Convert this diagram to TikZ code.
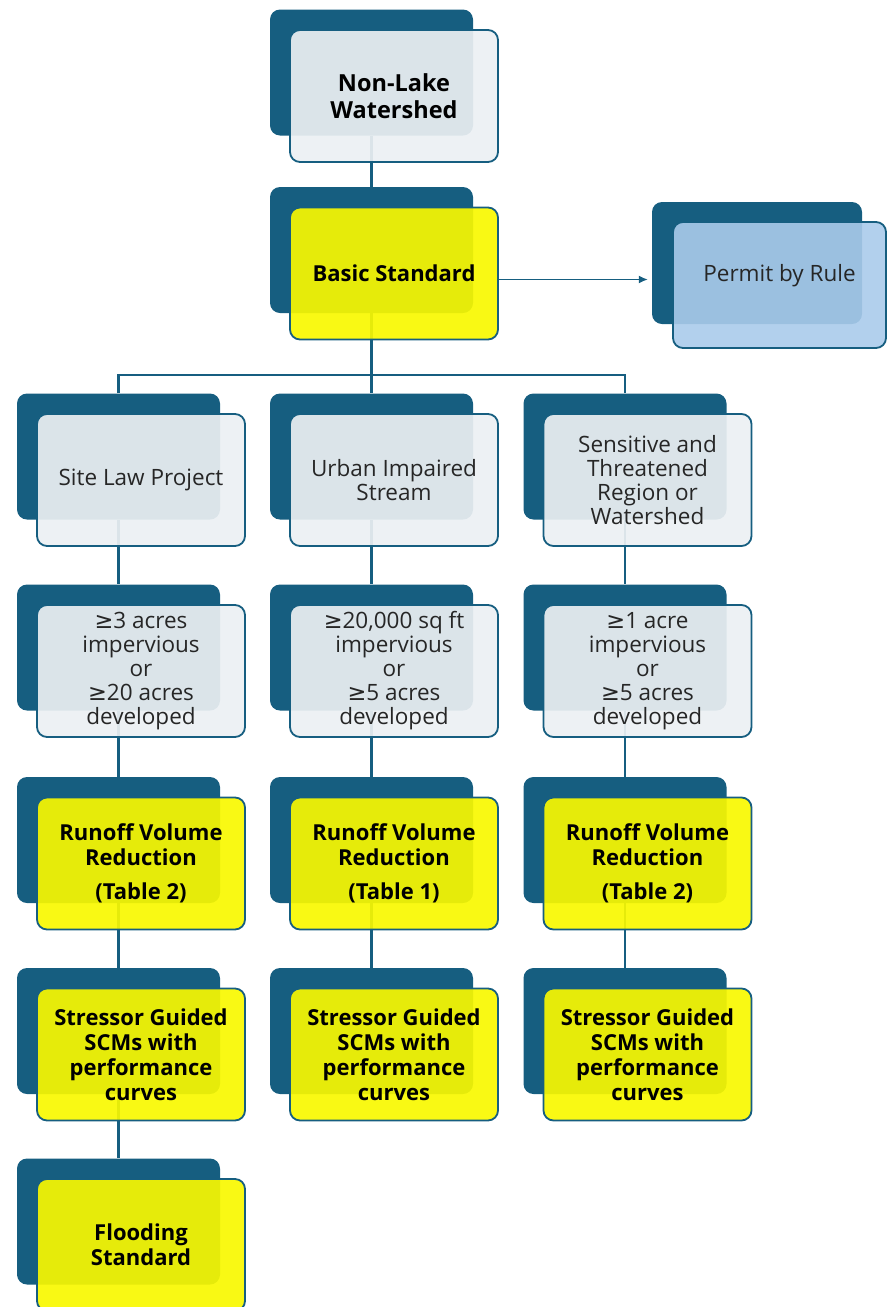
\documentclass[tikz,border=0pt]{standalone}
\usepackage{fontspec}
\setmainfont{Open Sans}
\newfontfamily\symbolfont{DejaVu Sans}
\newcommand{\atleast}{{\symbolfont ≥}}
\definecolor{deepteal}{RGB}{22,94,128}
\definecolor{mistgrey}{RGB}{236,240,243}
\definecolor{brightyellow}{RGB}{248,248,0}
\definecolor{paleblue}{RGB}{170,203,235}
\usetikzlibrary{arrows.meta,positioning,calc}

\tikzset{
  backbox/.style={fill=deepteal, rounded corners=10pt, inner sep=0pt,
                  minimum width=203pt, minimum height=126pt},
  frontbox/.style={draw=deepteal, line width=1.8pt, rounded corners=10pt,
                   minimum width=208pt, minimum height=132pt, inner sep=3pt,
                   align=center, fill opacity=0.92, text opacity=1, text=black!85,
                   font=\fontsize{22.5}{24}\selectfont},
  greybox/.style={frontbox, fill=mistgrey},
  yellowbox/.style={frontbox, fill=brightyellow, text=black,
                    font=\bfseries\fontsize{22}{25}\selectfont},
  over/.style={at={([shift={(22.5,23.5)}]#1.center)}},
  link/.style={deepteal, line width=2.5pt},
}

\begin{document}
\begin{tikzpicture}[x=1pt, y=-1pt]
  \useasboundingbox (0,0) rectangle (890,1307);

  % back plates
  \node[backbox] (topb) at (371.5,72.5) {};
  \node[backbox] (basicb) at (371.5,250) {};
  \node[backbox, minimum width=210pt, minimum height=122pt] (permitb) at (757,263) {};
  \node[backbox] (siteb) at (118.5,456.5) {};
  \node[backbox] (urbanb) at (371.5,456.5) {};
  \node[backbox] (sensb) at (625,456.5) {};
  \node[backbox] (sitelimb) at (118.5,647.5) {};
  \node[backbox] (urbanlimb) at (371.5,647.5) {};
  \node[backbox] (senslimb) at (625,647.5) {};
  \node[backbox] (siterunb) at (118.5,840) {};
  \node[backbox] (urbanrunb) at (371.5,840) {};
  \node[backbox] (sensrunb) at (625,840) {};
  \node[backbox] (sitescmb) at (118.5,1031) {};
  \node[backbox] (urbanscmb) at (371.5,1031) {};
  \node[backbox] (sensscmb) at (625,1031) {};
  \node[backbox] (floodb) at (118.5,1221.5) {};

  % connectors
  \coordinate (split) at (371.5,375);
  \draw[link] (topb.south) -- (basicb.north);
  \draw[link] (basicb.south) -- (split) -- (urbanb.north);
  \draw[link] (siteb.north) |- (split) -| (sensb.north);
  \draw[link] (siteb.south) -- (sitelimb.north);
  \draw[link] (sitelimb.south) -- (siterunb.north);
  \draw[link] (siterunb.south) -- (sitescmb.north);
  \draw[link] (sitescmb.south) -- (floodb.north);
  \draw[link] (urbanb.south) -- (urbanlimb.north);
  \draw[link] (urbanlimb.south) -- (urbanrunb.north);
  \draw[link] (urbanrunb.south) -- (urbanscmb.north);
  \draw[link] (sensb.south) -- (senslimb.north);
  \draw[link] (senslimb.south) -- (sensrunb.north);
  \draw[link] (sensrunb.south) -- (sensscmb.north);

  % front plates
  \node[greybox, over=topb, text=black, font=\bfseries\fontsize{23.5}{27}\selectfont] (topf) {Non-Lake\\Watershed};
  \node[yellowbox, over=basicb] (basicf) {Basic Standard};
  \node[frontbox, fill=paleblue, fill opacity=0.9, minimum width=213pt, minimum height=126pt,
        at={([shift={(22.5,22)}]permitb.center)}] (permitf) {Permit by Rule\\[0pt]};
  \node[greybox, over=siteb] (sitef) {Site Law Project};
  \node[greybox, over=urbanb] (urbanf) {Urban Impaired\\Stream};
  \node[greybox, over=sensb] (sensf) {Sensitive and\\Threatened\\Region or\\Watershed};
  \node[greybox, over=sitelimb] (sitelimf) {\atleast3 acres\\impervious\\or\\\atleast20 acres\\developed};
  \node[greybox, over=urbanlimb] (urbanlimf) {\atleast20,000 sq ft\\impervious\\or\\\atleast5 acres\\developed};
  \node[greybox, over=senslimb] (senslimf) {\atleast1 acre\\impervious\\or\\\atleast5 acres\\developed};
  \node[yellowbox, over=siterunb] (siterunf) {Runoff Volume\\Reduction\\[9pt](Table 2)};
  \node[yellowbox, over=urbanrunb] (urbanrunf) {Runoff Volume\\Reduction\\[9pt](Table 1)};
  \node[yellowbox, over=sensrunb] (sensrunf) {Runoff Volume\\Reduction\\[9pt](Table 2)};
  \node[yellowbox, over=sitescmb] (sitescmf) {Stressor Guided\\SCMs with\\performance\\curves};
  \node[yellowbox, over=urbanscmb] (urbanscmf) {Stressor Guided\\SCMs with\\performance\\curves};
  \node[yellowbox, over=sensscmb] (sensscmf) {Stressor Guided\\SCMs with\\performance\\curves};
  \node[yellowbox, over=floodb] (floodf) {Flooding\\Standard};

  \draw[deepteal, line width=1.3pt, -{Latex[length=9pt,width=8pt]}, shorten >=4pt]
    ([yshift=-6pt]basicf.east) -- ([yshift=-6pt]basicf.east -| permitb.west);
\end{tikzpicture}
\end{document}
